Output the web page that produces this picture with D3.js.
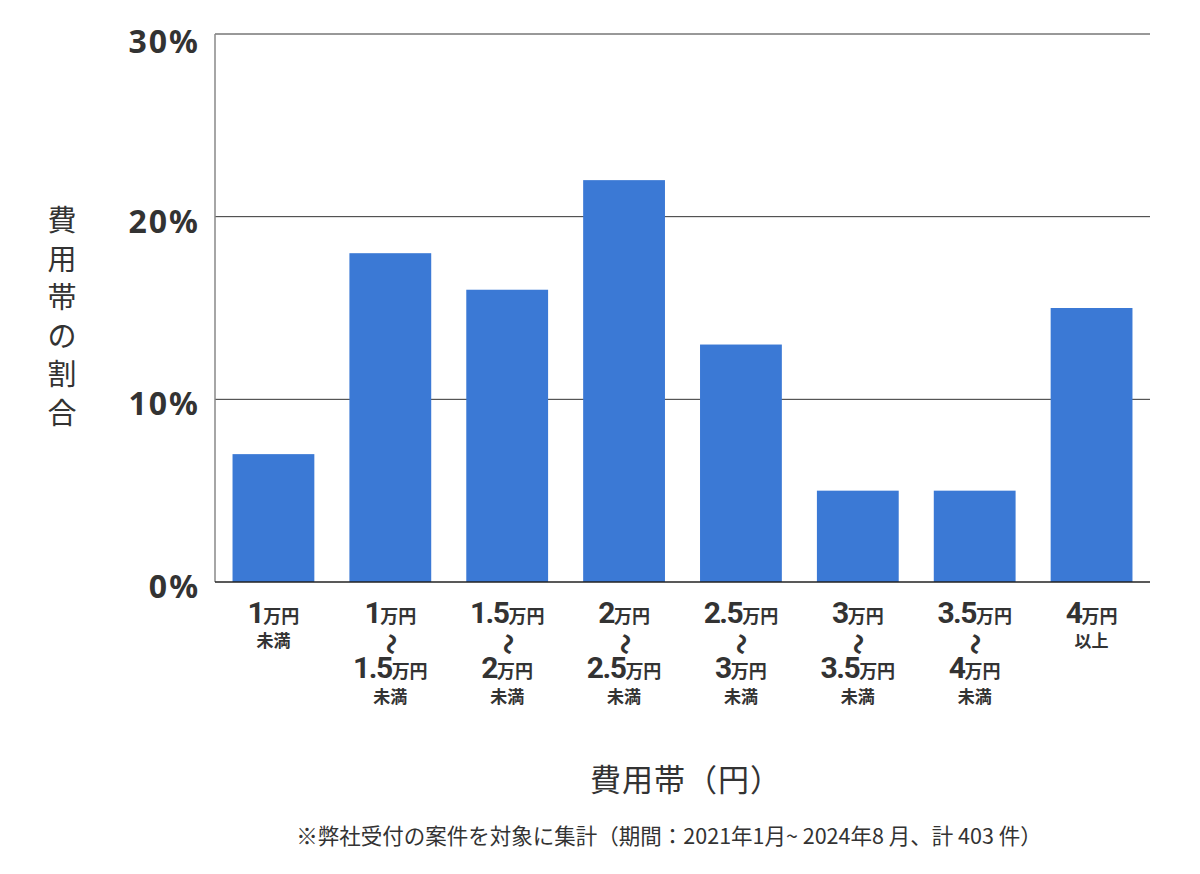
<!DOCTYPE html>
<html>
<head>
<meta charset="utf-8">
<script src="https://cdnjs.cloudflare.com/ajax/libs/d3/7.8.5/d3.min.js"></script>
<style>
  body { margin: 0; background: #fff; }
  svg { display: block; }
</style>
</head>
<body>
<div id="chart"></div>
<script>
// bar values (% of cases per price band)
var values = [7, 18, 16, 22, 13, 5, 5, 15];
// price band labels: lower bound, upper bound, suffix
var labelFrom = ["1", "1", "1.5", "2", "2.5", "3", "3.5", "4"];
var labelTo = [null, "1.5", "2", "2.5", "3", "3.5", "4", null];
var labelSuffix = ["未満", "未満", "未満", "未満", "未満", "未満", "未満", "以上"];
var yTicks = [0, 10, 20, 30];
var yTitle = ["費", "用", "帯", "の", "割", "合"];
var xTitle = "費用帯（円）";
var footnote = "※弊社受付の案件を対象に集計（期間：2021年1月~ 2024年8 月、計 403 件）";

(function() {
    var width = 1200,
        height = 874,
        margin = {top: 34, right: 50, bottom: 292, left: 215};

    var innerW = width - margin.left - margin.right,
        innerH = height - margin.top - margin.bottom;

    var svg = d3.select("#chart").append("svg")
        .attr("width", width)
        .attr("height", height);

    var g = svg.append("g")
        .attr("transform", "translate(" + margin.left + "," + margin.top + ")");

    var x = d3.scaleBand()
        .domain(d3.range(values.length))
        .range([0, innerW])
        .paddingInner(0.3)
        .paddingOuter(0.15);

    var y = d3.scaleLinear()
        .domain([0, 30])
        .range([innerH, 0]);

    // gridlines
    g.append("g")
        .selectAll("line")
        .data(yTicks.filter(function(d) { return d > 0; }))
        .enter()
        .append("line")
        .attr("x1", 0)
        .attr("x2", innerW)
        .attr("y1", function(d) { return y(d); })
        .attr("y2", function(d) { return y(d); })
        .attr("stroke", "#333")
        .attr("stroke-width", 1);

    // left axis line
    g.append("line")
        .attr("x1", 0).attr("x2", 0)
        .attr("y1", 0).attr("y2", innerH)
        .attr("stroke", "#888")
        .attr("stroke-width", 1.5);

    // bars
    g.append("g")
        .selectAll("rect")
        .data(values)
        .enter()
        .append("rect")
        .attr("x", function(d, i) { return x(i); })
        .attr("y", function(d) { return y(d); })
        .attr("width", x.bandwidth())
        .attr("height", function(d) { return innerH - y(d); })
        .attr("fill", "#3b79d5");

    // baseline
    g.append("line")
        .attr("x1", 0).attr("x2", innerW)
        .attr("y1", innerH).attr("y2", innerH)
        .attr("stroke", "#222")
        .attr("stroke-width", 1.5);

    // y tick labels
    g.append("g")
        .selectAll("text")
        .data(yTicks)
        .enter()
        .append("text")
        .attr("x", -15)
        .attr("y", function(d) { return y(d); })
        .attr("dy", function(d) { return d === 30 ? "0.6em" : "0.5em"; })
        .attr("text-anchor", "end")
        .style("font-family", "'Noto Sans', 'Open Sans', sans-serif")
        .style("font-weight", 700)
        .style("font-size", "32px")
        .style("letter-spacing", "2px")
        .attr("fill", "#333")
        .text(function(d) { return d + "%"; });

    // x labels
    var labels = g.append("g")
        .selectAll("g")
        .data(values)
        .enter()
        .append("g")
        .attr("transform", function(d, i) {
            return "translate(" + (x(i) + x.bandwidth() / 2) + "," + innerH + ")";
        });

    function amount(sel, num, yy) {
        var t = sel.append("text")
            .attr("y", yy)
            .attr("text-anchor", "middle")
            .attr("fill", "#333")
            .style("font-weight", 700);
        t.append("tspan")
            .style("font-family", "Roboto, 'Noto Sans', sans-serif")
            .style("font-size", "30px")
            .style("letter-spacing", "-1.5px")
            .text(num);
        t.append("tspan")
            .style("font-family", "'Noto Sans CJK JP', sans-serif")
            .style("font-size", "18px")
            .text("万円");
    }

    labels.each(function(d, i) {
        var sel = d3.select(this);
        amount(sel, labelFrom[i], 41);
        var small = function(txt, yy) {
            sel.append("text")
                .attr("y", yy)
                .attr("text-anchor", "middle")
                .attr("fill", "#333")
                .style("font-family", "'Noto Sans CJK JP', sans-serif")
                .style("font-weight", 700)
                .style("font-size", "17px")
                .text(txt);
        };
        if (labelTo[i] === null) {
            small(labelSuffix[i], 65);
        } else {
            // wavy range mark: a rotated, stretched tilde
            sel.append("text")
                .attr("transform", "translate(0,62) rotate(90) scale(1.25,1.6)")
                .attr("text-anchor", "middle")
                .attr("dy", "0.35em")
                .attr("fill", "#333")
                .style("font-family", "'Noto Sans CJK JP', sans-serif")
                .style("font-weight", 700)
                .style("font-size", "17px")
                .text("〜");
            amount(sel, labelTo[i], 96);
            small(labelSuffix[i], 121);
        }
    });

    // y title (vertical)
    svg.append("g")
        .selectAll("text")
        .data(yTitle)
        .enter()
        .append("text")
        .attr("x", 62)
        .attr("y", function(d, i) { return 231 + i * 38.5; })
        .attr("text-anchor", "middle")
        .attr("fill", "#333")
        .style("font-family", "'Noto Sans CJK JP', sans-serif")
        .style("font-size", "29px")
        .text(function(d) { return d; });

    // x title
    svg.append("text")
        .attr("x", 686)
        .attr("y", 791)
        .attr("text-anchor", "middle")
        .attr("fill", "#333")
        .style("font-family", "'Noto Sans CJK JP', sans-serif")
        .style("font-size", "31px")
        .style("letter-spacing", "1px")
        .text(xTitle);

    // footnote
    svg.append("text")
        .attr("x", 669)
        .attr("y", 844)
        .attr("text-anchor", "middle")
        .attr("fill", "#333")
        .style("font-family", "'Noto Sans CJK JP', sans-serif")
        .style("font-size", "21.5px")
        .text(footnote);
})();
</script>
</body>
</html>
